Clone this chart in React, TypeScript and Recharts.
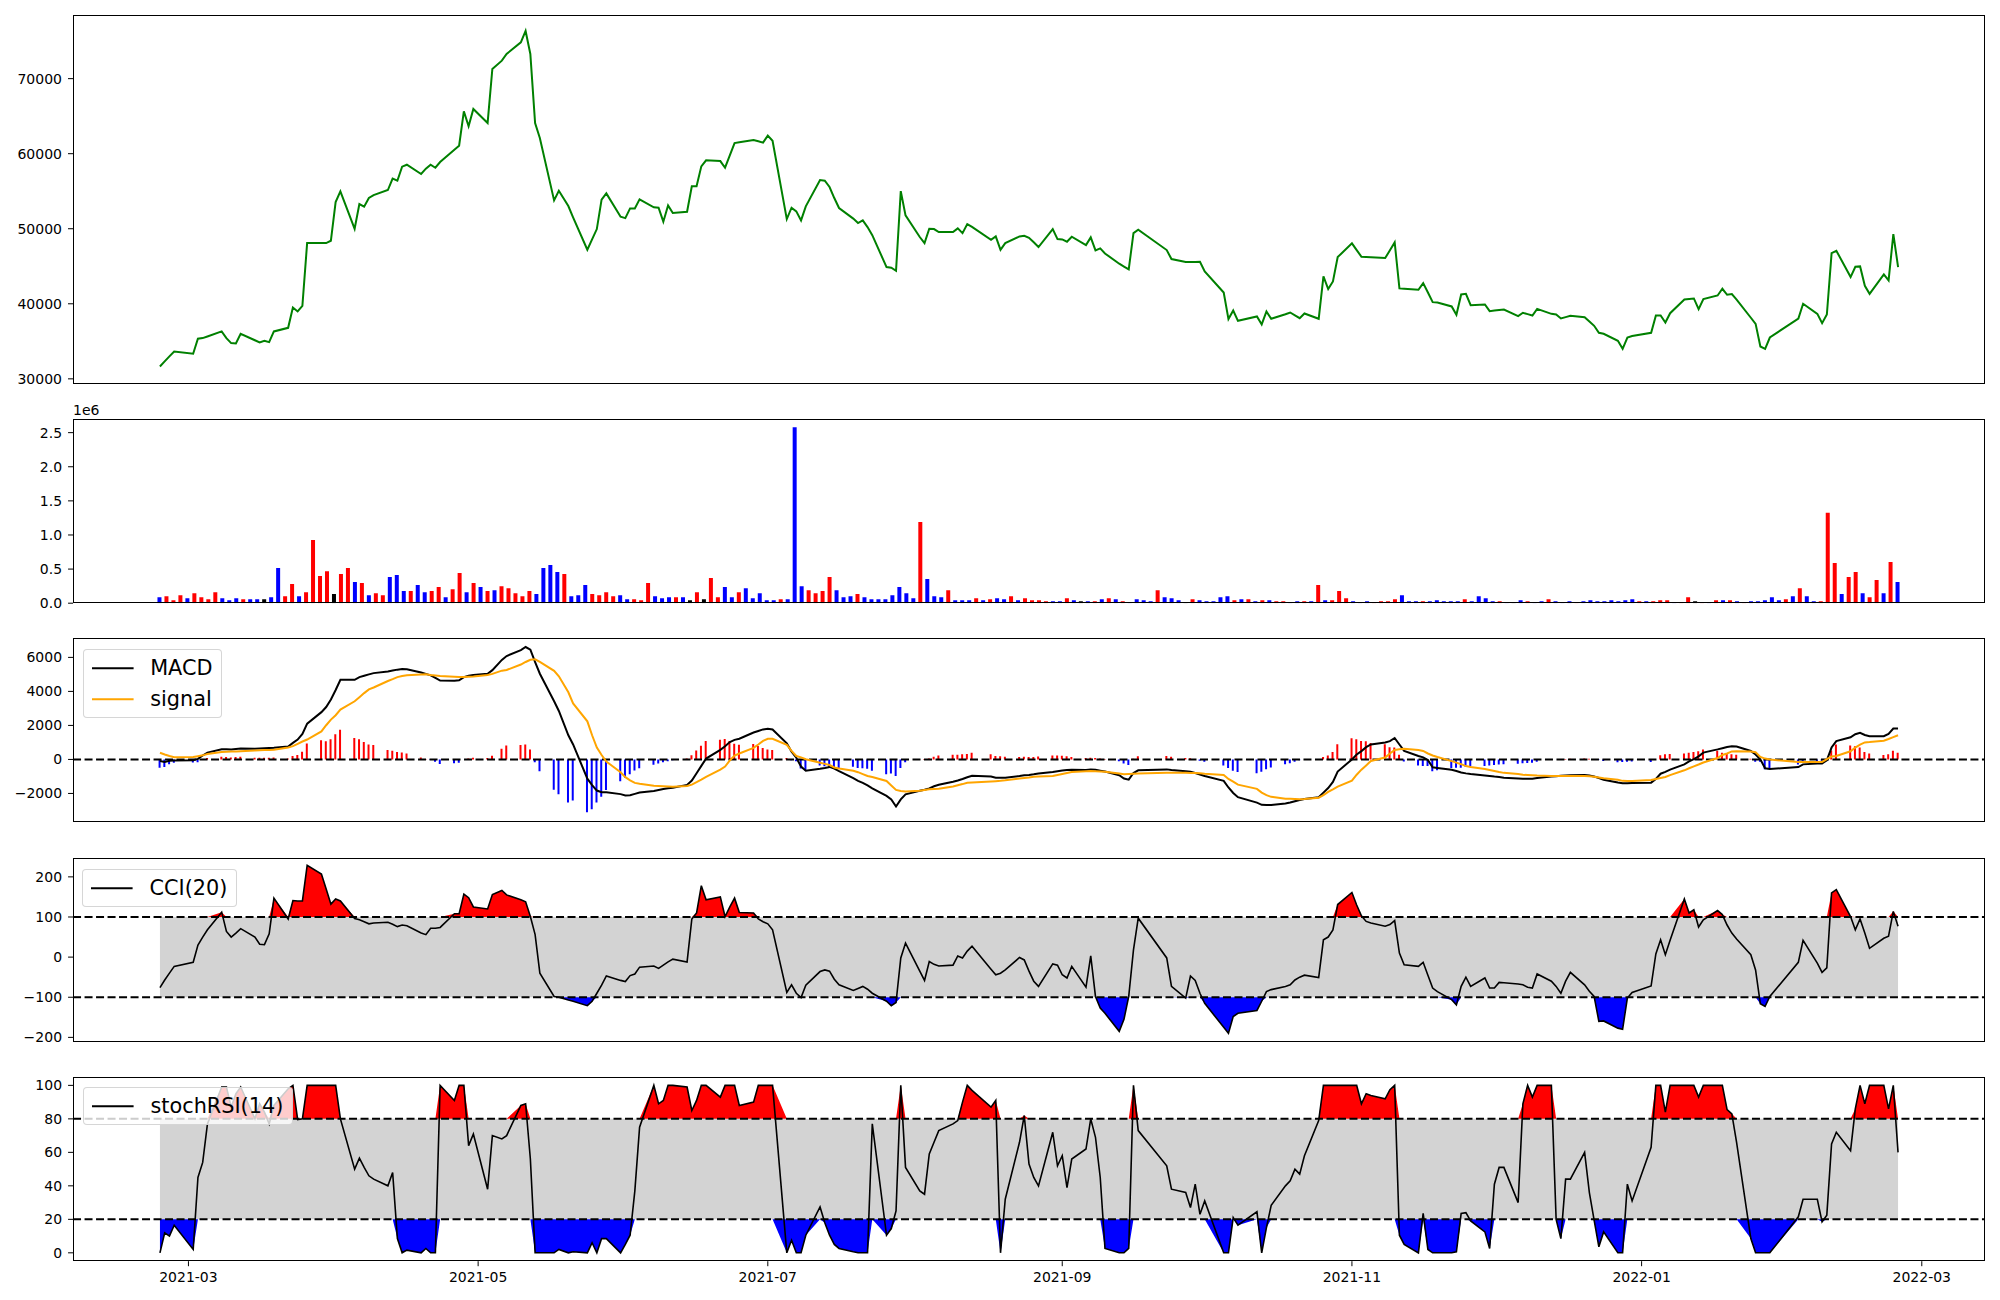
import React from "react";
import { Area, Bar, Cell, ComposedChart, Line, ReferenceLine, XAxis, YAxis } from "recharts";

// trading calendar (KRX): weekdays from START to START + LAST_DAY, minus market holidays
const START = "2021-02-23";
const LAST_DAY = 366;
const HOLIDAYS = [
  "2021-03-01", "2021-05-05", "2021-05-19", "2021-08-16", "2021-09-20", "2021-09-21",
  "2021-09-22", "2021-10-04", "2021-10-11", "2021-12-31", "2022-01-31", "2022-02-01", "2022-02-02"
];
const TICK_LABELS = ["2021-03", "2021-05", "2021-07", "2021-09", "2021-11", "2022-01", "2022-03"];

// one value per trading day, one row per week
const PRICE = [
  31650, 32320, 32990, 33650,
  33340, 35340, 35430, 35650,
  36320, 35430, 34760, 34720, 36000,
  35140, 34850, 35070, 34890, 36320,
  36800, 39510, 38980, 39730, 48090,
  48090, 48090, 48400, 53560, 54980,
  50000, 53290, 52940, 54100, 54490,
  55160, 56670, 56400, 58270, 58530,
  57290, 58000, 58530, 58130, 58890,
  60520, 61070, 65650, 63650, 65960,
  64090, 71290, 72400, 73290,
  74840, 76350, 73290, 64090, 62090,
  53780, 55070, 53020, 51500,
  47200, 48580, 49960, 53870, 54710,
  51600, 51420, 52710, 52710, 53910,
  52850, 52800, 50940, 53110, 52090,
  52270, 55650, 55650, 58310, 59110,
  59020, 58130, 59770, 61420, 61510,
  61820, 61650, 61470, 62400, 61730,
  51290, 52800, 52310, 51110, 52980,
  56490, 56400, 55560, 54090, 52760,
  51350, 50760, 51110, 50220, 49150,
  44890, 44800, 44400, 55020, 51780,
  48900, 48090, 50000, 49960, 49560,
  49560, 50050, 49420, 50620, 50240,
  48530, 48980, 47200, 48090,
  48980, 49070, 48800, 48200, 47560,
  49960, 48620, 48580, 48270, 48940,
  47820, 48850, 47110, 47380, 46710,
  45340, 44960, 44580, 49420, 49870,
  47160, 45960,
  45560, 45570, 45580, 45600, 44310,
  41510, 37960, 39110, 37730,
  38310, 37250, 38980, 38000,
  38600, 38840, 38470, 38090, 38710,
  38000, 43650, 41960, 42980, 46220,
  48050, 47160, 46270, 46230, 46200,
  46090, 47130, 48180, 42050, 42000,
  41870, 42760, 41500, 40220, 40180,
  39650, 38530, 41240, 41330, 39820,
  39910, 39020, 39100, 39180, 39240,
  38350, 38800, 38620, 38440, 39330,
  38660, 38580, 38040, 38220, 38400,
  38220, 37650, 37070, 36140, 36000,
  35070, 34000, 35510, 35700,
  36140, 38440, 38440, 37510, 38750,
  40580, 40640, 40710, 39290, 40620,
  41110, 42000, 41200, 41290, 40560,
  38140, 37330, 34310, 34000, 35510,
  38040, 40000,
  38660, 37420, 38580, 46760, 47070,
  43560, 44940, 44980, 42400, 41330,
  43920, 43120, 49290, 44890
];

// volume in thousands of shares, plotted by bar number
const VOLUME_K = [
  88, 100, 44, 118, 74, 147, 88, 59, 162, 74,
  44, 74, 59, 59, 59, 59, 88, 516, 100, 280,
  100, 162, 928, 400, 470, 133, 427, 516, 310, 295,
  118, 147, 118, 383, 413, 177, 177, 265, 162, 177,
  236, 88, 206, 442, 162, 295, 236, 177, 190, 250,
  220, 147, 100, 177, 133, 516, 560, 457, 427, 100,
  118, 265, 133, 118, 162, 100, 118, 59, 59, 44,
  295, 100, 74, 88, 88, 88, 44, 162, 59, 368,
  88, 236, 88, 162, 220, 74, 147, 44, 44, 59,
  59, 2580, 250, 190, 147, 177, 383, 190, 88, 100,
  133, 88, 59, 59, 59, 118, 236, 147, 74, 1190,
  354, 100, 88, 190, 44, 44, 44, 74, 44, 59,
  74, 59, 100, 44,
  74, 44, 44, 30, 30, 30, 74, 44, 30, 30,
  30, 59, 74, 59, 30, 15, 59, 44, 30, 190,
  88, 74, 44, 15, 59, 44, 30, 30, 88, 100,
  44, 59, 59, 30, 44, 44, 30, 30, 15, 30,
  30, 30, 265, 44, 44, 177, 74, 30, 15, 30,
  15, 30, 30, 59, 118, 30, 30, 30, 30, 44,
  30, 30, 30, 59, 30, 100, 74, 30, 30, 15,
  15, 44, 30, 15, 30, 59, 30, 15, 30, 15,
  30, 44, 30, 30, 44, 30, 44, 59, 30, 30,
  30, 44, 44, 15, 15, 88, 30, 15, 15, 44,
  44, 44, 30, 15, 30, 30, 44, 88, 44, 59,
  100, 220, 100, 30, 30, 1326, 590, 133, 383, 457,
  147, 88, 339, 147, 604, 310
];
// r = up day, b = down day, k = unchanged
const VOLUME_COLOR = [
  "brrrbrrrrb", "bbrbbkbbrr", "brrrrkrrbr", "brrbbbrbbr", "rbrrbrbrbr",
  "rrrrbbbbrb", "bbrrrrbbrr", "rbbbrbkrkr", "rbbrbbbbbr", "bbbrrrrbbb",
  "rbbbbbbbbr", "bbbrbbbrbr", "bbrb",
  "rrrrbbrbkb", "rbrbrbbbbr", "bbbkrbbbbb", "rbrbrbrrbb", "rbrbrrrbbb",
  "rrrrbbbrbb", "bbbrbbbbrb", "kbrbbrbbbr", "bbbbbbbbrb", "rrrbrrkrbr",
  "brbrbbbbbr", "brbbrrrbrr", "brrbrb"
].join("");

const MACD = [
  -98, -156, -80, -59,
  -45, 30, 230, 400,
  600, 600, 580, 610, 640,
  630, 640, 655, 665, 680,
  760, 975, 1170, 1500, 2106,
  2780, 3080, 3520, 4080, 4680,
  4680, 4840, 4920, 5000, 5075,
  5170, 5226, 5280, 5310, 5300,
  5110, 5030, 4940, 4800, 4641,
  4630, 4650, 4840, 4920, 4970,
  5040, 5250, 5850, 6080,
  6430, 6610, 6450, 5720, 5040,
  3420, 2850, 1420, 880,
  -1130, -1510, -1830, -1930, -1925,
  -2040, -2115, -2100, -2025, -1950,
  -1856, -1800, -1740, -1700, -1660,
  -1500, -1240, -810, -380, 50,
  560, 780, 1020, 1150, 1220,
  1580, 1670, 1765, 1800, 1760,
  950, 450, 100, -420, -660,
  -550, -500, -440, -540, -690,
  -1100, -1260, -1380, -1530, -1700,
  -2145, -2350, -2770, -2350, -2050,
  -1840, -1780, -1700, -1580, -1490,
  -1310, -1240, -1150, -1050, -960,
  -1000, -1073, -1073, -1073,
  -975, -936, -910, -875, -830,
  -740, -690, -650, -620, -600,
  -620, -590, -610, -660, -710,
  -930, -1120, -1190, -800, -640,
  -585, -620,
  -700, -730, -800, -890, -975,
  -1260, -1650, -1970, -2220,
  -2540, -2670, -2672, -2672,
  -2590, -2535, -2460, -2390, -2330,
  -2220, -1950, -1680, -1320, -710,
  0, 290, 490, 720, 880,
  1000, 1073, 1260, 878, 500,
  200, 120, -40, -460, -500,
  -610, -680, -770, -820, -860,
  -940, -970, -1010, -1040, -1070,
  -1120, -1131, -1131, -1131, -1090,
  -1000, -985, -965, -950, -936,
  -920, -950, -1000, -1090, -1190,
  -1360, -1404, -1404, -1385,
  -1365, -1150, -840, -730, -600,
  -290, -120, 20, 180, 400,
  590, 660, 730, 775, 760,
  500, 293, 10, -520, -560,
  -450, -290,
  -245, -234, -50, 700, 1080,
  1300, 1480, 1570, 1440, 1365,
  1365, 1500, 1814, 1814
];

const SIGNAL = [
  390, 290, 200, 135,
  140, 190, 240, 320,
  435, 452, 460, 467, 480,
  530, 540, 550, 560, 566,
  700, 780, 915, 1053, 1170,
  1650, 2010, 2340, 2600, 2930,
  3420, 3660, 3900, 4120, 4230,
  4610, 4720, 4840, 4900, 4950,
  5000, 5010, 4970, 4940, 4910,
  4860, 4840, 4840, 4860, 4875,
  4960, 5030, 5220, 5260,
  5580, 5730, 5860, 5890, 5740,
  5210, 4890, 3950, 3290,
  2240, 1420, 700, 260, -130,
  -750, -1040, -1230, -1380, -1430,
  -1550, -1565, -1575, -1590, -1610,
  -1560, -1480, -1340, -1190, -1030,
  -600, -420, -60, 230, 350,
  680, 880, 1090, 1209, 1209,
  860, 500, 200, 120, 10,
  -190, -260, -330, -470, -530,
  -670, -750, -860, -975, -1030,
  -1268, -1530, -1794, -1850, -1890,
  -1845, -1800, -1760, -1740, -1725,
  -1590, -1520, -1450, -1370, -1360,
  -1300, -1280, -1260, -1230,
  -1120, -1090, -1060, -1014, -1005,
  -975, -920, -860, -800, -741,
  -700, -685, -700, -715, -730,
  -830, -875, -860, -839, -822,
  -780, -780,
  -785, -795, -805, -815, -840,
  -910, -1150, -1300, -1480,
  -1730, -1950, -2100, -2200,
  -2305, -2315, -2325, -2335, -2330,
  -2250, -2100, -1910, -1760, -1600,
  -1250, -900, -600, -350, -90,
  110, 350, 560, 600, 624,
  560, 500, 350, 230, 140,
  -100, -190, -280, -390, -450,
  -560, -620, -680, -740, -790,
  -860, -900, -920, -935, -950,
  -975, -975, -975, -975, -975,
  -980, -995, -1020, -1060, -1100,
  -1200, -1260, -1268, -1268,
  -1209, -1150, -1090, -1030, -920,
  -640, -520, -410, -300, -180,
  80, 260, 350, 470, 488,
  460, 429, 150, 50, 0,
  -156, -156,
  -156, -156, 20, 170, 200,
  480, 700, 870, 1000, 1020,
  1100, 1200, 1310, 1424
];

const HIST = [
  -490, -450, -280, -190,
  -185, -160, -10, 80,
  165, 148, 120, 143, 160,
  100, 100, 105, 105, 114,
  60, 195, 255, 447, 936,
  1130, 1070, 1180, 1480, 1750,
  1260, 1180, 1020, 880, 845,
  560, 506, 440, 410, 350,
  110, 20, -30, -140, -269,
  -230, -190, 0, 60, 95,
  80, 220, 630, 820,
  850, 880, 590, -170, -700,
  -1790, -2040, -2530, -2410,
  -3100, -2930, -2530, -2190, -1795,
  -1290, -1075, -870, -645, -520,
  -306, -235, -165, -110, -50,
  60, 240, 530, 810, 1080,
  1160, 1200, 1080, 920, 870,
  900, 790, 675, 591, 551,
  90, -50, -100, -540, -670,
  -360, -400, -450, -500, -560,
  -430, -510, -520, -555, -670,
  -877, -820, -976, -500, -160,
  5, 20, 60, 160, 235,
  280, 280, 300, 320, 400,
  300, 207, 187, 157,
  145, 154, 150, 139, 175,
  235, 230, 210, 180, 141,
  80, 95, 90, 55, 20,
  -100, -245, -330, 39, 182,
  195, 160,
  85, 65, 5, -75, -135,
  -350, -500, -670, -740,
  -810, -720, -572, -472,
  -285, -220, -135, -55, 0,
  30, 150, 230, 440, 890,
  1250, 1190, 1090, 1070, 970,
  890, 723, 700, 278, -124,
  -360, -380, -390, -690, -640,
  -510, -490, -490, -430, -410,
  -380, -350, -330, -300, -280,
  -260, -231, -211, -196, -140,
  -25, -10, 10, 25, 39,
  60, 45, 20, -30, -90,
  -160, -144, -136, -117,
  -156, 0, 250, 300, 320,
  350, 400, 430, 480, 580,
  510, 400, 380, 305, 272,
  40, -136, -140, -570, -560,
  -294, -134,
  -89, -78, -70, 530, 880,
  820, 780, 700, 440, 345,
  265, 300, 504, 390
];

const CCI = [
  -76, -57, -40, -23,
  -13, 30, 50, 68,
  112, 64, 50, 60, 71,
  50, 32, 31, 58, 147,
  95, 141, 140, 140, 229,
  207, 170, 132, 145, 140,
  96, 93, 88, 83, 85,
  87, 82, 76, 80, 78,
  60, 56, 72, 72, 74,
  108, 108, 157, 148, 125,
  120, 156, 166, 155,
  143, 138, 101, 56, -40,
  -98, -100, -107, -110,
  -121, -110, -90, -70, -47,
  -58, -61, -46, -42, -25,
  -22, -28, -20, -12, -5,
  -12, 95, 110, 178, 143,
  150, 101, 125, 147, 111,
  110, 95, 88, 83, 68,
  -88, -69, -90, -101, -70,
  -36, -32, -35, -55, -69,
  -83, -78, -73, -80, -90,
  -110, -121, -113, -2, 35,
  -35, -58, -11, -18, -22,
  -20, 3, -2, 15, 27,
  -30, -44, -40, -32,
  -1, -7, -35, -60, -73,
  -17, -20, -44, -52, -23,
  -75, 3, -98, -127, -140,
  -185, -155, -98, 18, 97,
  -2, -73,
  -102, -47, -58, -90, -115,
  -175, -190, -148, -140,
  -133, -110, -86, -81,
  -73, -69, -57, -50, -45,
  -51, 43, 50, 68, 131,
  161, 130, 103, 89, 85,
  77, 81, 91, 10, -19,
  -23, -13, -45, -77, -86,
  -106, -119, -73, -50, -73,
  -52, -77, -77, -63, -64,
  -67, -69, -75, -77, -42,
  -60, -73, -90, -60, -38,
  -69, -85, -98, -160, -159,
  -177, -180, -102, -88,
  -72, 8, 43, 6, 42,
  145, 110, 118, 75, 93,
  116, 106, 80, 60, 45,
  6, -32, -116, -123, -98,
  -13, 42,
  -15, -38, -27, 160, 168,
  101, 68, 95, 60, 22,
  47, 52, 114, 77
];

const STOCH_RSI = [
  0, 12, 10, 16.5,
  2, 45, 54, 77,
  99, 99, 87, 95, 99,
  80, 89, 84, 77, 88,
  98, 100, 79.6, 80, 100,
  100, 100, 100, 100, 80,
  50, 56.5, 51, 46, 44,
  40, 48, 8.5, 0, 1.6,
  0, 2.6, 0, 0, 100,
  91, 100, 100, 64, 71,
  38, 70, 68, 70,
  88, 89, 56, 0, 0,
  0, 2, 0, 0.6,
  0, 6, 0, 8.5, 8.5,
  0, 5, 10.5, 37, 75,
  100, 89, 91, 100, 100,
  99, 85, 91, 100, 100,
  93, 100, 100, 100, 88,
  90, 100, 100, 100, 100,
  0, 7.5, 0, 0, 10.5,
  27.4, 18, 10.5, 5, 2.6,
  0.6, 0, 0, 0, 77,
  10.5, 14.5, 25, 100, 51,
  37, 35, 59, 66, 73,
  77, 79, 90, 100, 97,
  87, 91, 0, 32,
  66, 82, 53, 45, 40,
  72, 52, 58, 39, 56,
  62, 80, 69, 45, 2.6,
  0, 0, 2.6, 100, 73,
  52, 38,
  36, 27, 41, 23, 31,
  0, 0, 21, 16.5,
  24.5, 0, 15, 28.4,
  40, 43, 50, 47, 58,
  79, 100, 100, 100, 100,
  100, 100, 89, 95, 94,
  92, 97.4, 100, 10.5, 5,
  0, 23.5, 2, 0, 0,
  0, 0.6, 23.5, 24, 19,
  12.5, 2.6, 41, 51, 51,
  30, 89, 100, 93, 100,
  100, 20, 8.5, 44, 44,
  60, 36, 19.5, 3.6, 12.5,
  0, 0, 41, 31,
  63, 100, 100, 84, 100,
  100, 100, 100, 93, 100,
  100, 100, 85.5, 83, 66,
  8.5, 0, 0, 0, 0,
  21.5, 32,
  32, 18.5, 22.5, 65, 72,
  61, 86, 100, 89, 100,
  100, 86, 100, 60
];

const PRICE_TICKS = [30000, 40000, 50000, 60000, 70000];
const VOLUME_TICKS = [0, 500000, 1000000, 1500000, 2000000, 2500000];
const MACD_TICKS = [-2000, 0, 2000, 4000, 6000];
const CCI_TICKS = [-200, -100, 0, 100, 200];
const STOCH_TICKS = [0, 20, 40, 60, 80, 100];

const DAY_MS = 86400000;
const START_MS = Date.parse(START + "T00:00:00Z");
const dayOf = (iso: string) => Math.round((Date.parse(iso + "T00:00:00Z") - START_MS) / DAY_MS);

function tradingDays() {
  const out: number[] = [];
  for (let d = 0; d <= LAST_DAY; d++) {
    const t = new Date(START_MS + d * DAY_MS);
    const dow = t.getUTCDay();
    if (dow === 0 || dow === 6) continue;
    if (HOLIDAYS.includes(t.toISOString().slice(0, 10))) continue;
    out.push(d);
  }
  return out;
}

const DAYS = tradingDays();
const N = Math.min(DAYS.length, PRICE.length);
const rows = DAYS.slice(0, N).map((d, i) => ({
  d,
  price: PRICE[i],
  macd: MACD[i],
  signal: SIGNAL[i],
  hist: HIST[i],
  cci: CCI[i],
  cciBand: [-100, 100],
  cciHi: [100, Math.max(CCI[i], 100)],
  cciLo: [Math.min(CCI[i], -100), -100],
  stoch: STOCH_RSI[i],
  stBand: [20, 80],
  stHi: [80, Math.max(STOCH_RSI[i], 80)],
  stLo: [Math.min(STOCH_RSI[i], 20), 20]
}));
const COLORS: Record<string, string> = { r: "#ff0000", b: "#0000ff", k: "#000000" };
const volRows = VOLUME_K.map((v, i) => ({ i, vol: v * 1000, color: COLORS[VOLUME_COLOR[i]] ?? "#0000ff" }));

const span = DAYS[N - 1] - DAYS[0];
const X_DOMAIN = [DAYS[0] - 0.05 * span, DAYS[N - 1] + 0.05 * span];
const VOL_DOMAIN = [-0.05 * (volRows.length - 1), (volRows.length - 1) * 1.05];
const X_TICKS = TICK_LABELS.map((m) => dayOf(m + "-01"));
const tickLabel = (v: number) => TICK_LABELS[X_TICKS.indexOf(v)] ?? "";

const W = 2000;
const PLOT_LEFT = 73;
const PLOT_RIGHT = 15;
const PAD = 12;
const X_AXIS_H = 40;
const FONT = "'DejaVu Sans', sans-serif";
const TICK = { fill: "#000", fontSize: 14, fontFamily: FONT };
const DASH = "8 3.5";
const minus = (v: number) => (v < 0 ? "\u2212" + Math.abs(v) : String(v));

const P1 = { top: 15, h: 368.5 };
const P2 = { top: 418.8, h: 184.2 };
const P3 = { top: 638.3, h: 184.2 };
const P4 = { top: 857.8, h: 184.2 };
const P5 = { top: 1077.3, h: 184.2 };

function Panel({
  top, h, data, xKey, xDomain, yDomain, yTicks, yFormat, showX, children
}: {
  top: number; h: number; data: any[]; xKey: string; xDomain: number[]; yDomain: number[];
  yTicks: number[]; yFormat: (v: number) => string; showX?: boolean; children: React.ReactNode;
}) {
  const height = h + 2 * PAD + (showX ? X_AXIS_H : 0);
  return (
    <div style={{ position: "absolute", left: 0, top: top - PAD }}>
      <ComposedChart width={W} height={height} data={data}
        margin={{ top: PAD, right: PLOT_RIGHT, bottom: PAD, left: 0 }}>
        <XAxis type="number" dataKey={xKey} domain={xDomain} allowDataOverflow hide={!showX}
          ticks={showX ? X_TICKS : undefined} tickFormatter={tickLabel} interval={0}
          height={X_AXIS_H} tickSize={5} tickMargin={6} axisLine={false}
          tickLine={{ stroke: "#000" }} tick={TICK} />
        <YAxis type="number" domain={yDomain} allowDataOverflow ticks={yTicks} interval={0}
          tickFormatter={yFormat} width={PLOT_LEFT} tickSize={5} tickMargin={6}
          axisLine={false} tickLine={{ stroke: "#000" }} tick={TICK} />
        {children}
      </ComposedChart>
      <div style={{
        position: "absolute", left: PLOT_LEFT, top: PAD, width: W - PLOT_LEFT - PLOT_RIGHT, height: h,
        border: "1px solid #000", boxSizing: "border-box", pointerEvents: "none"
      }} />
    </div>
  );
}

function LegendBox({ left, top, items }: { left: number; top: number; items: { label: string; color: string; width: number }[] }) {
  return (
    <div style={{
      position: "absolute", left, top, padding: "7.8px 8.3px", background: "rgba(255,255,255,0.8)",
      border: "1px solid rgba(204,204,204,0.8)", borderRadius: 4, fontFamily: FONT, fontSize: 20.8,
      lineHeight: "20.3px", color: "#000"
    }}>
      {items.map((it, k) => (
        <div key={it.label} style={{ display: "flex", alignItems: "center", height: 20.3, marginTop: k ? 10.4 : 0 }}>
          <svg width={41.6} height={20.3} style={{ display: "block" }}>
            <line x1={0} x2={41.6} y1={10.15} y2={10.15} stroke={it.color} strokeWidth={it.width} />
          </svg>
          <span style={{ marginLeft: 16.6, whiteSpace: "nowrap" }}>{it.label}</span>
        </div>
      ))}
    </div>
  );
}

export default function App() {
  return (
    <div style={{ position: "relative", width: W, height: 1300, background: "#fff", fontFamily: FONT }}>
      <style>{"body{margin:0}"}</style>

      <Panel {...P1} data={rows} xKey="d" xDomain={X_DOMAIN} yDomain={[29380, 78480]}
        yTicks={PRICE_TICKS} yFormat={(v) => String(v)}>
        <Line type="linear" dataKey="price" stroke="#008000" strokeWidth={2} dot={false}
          activeDot={false} isAnimationActive={false} />
      </Panel>

      <Panel {...P2} data={volRows} xKey="i" xDomain={VOL_DOMAIN} yDomain={[0, 2700000]}
        yTicks={VOLUME_TICKS} yFormat={(v) => (v / 1e6).toFixed(1)}>
        <Bar dataKey="vol" barSize={4} isAnimationActive={false}>
          {volRows.map((r) => <Cell key={r.i} fill={r.color} />)}
        </Bar>
      </Panel>
      <div style={{ position: "absolute", left: 73, top: 403, fontSize: 14, lineHeight: "14px" }}>1e6</div>

      <Panel {...P3} data={rows} xKey="d" xDomain={X_DOMAIN} yDomain={[-3690, 7140]}
        yTicks={MACD_TICKS} yFormat={minus}>
        <Bar dataKey="hist" barSize={2} isAnimationActive={false}>
          {rows.map((r) => <Cell key={r.d} fill={r.hist >= 0 ? "#ff0000" : "#0000ff"} />)}
        </Bar>
        <ReferenceLine y={0} stroke="#000" strokeWidth={2} strokeDasharray={DASH} />
        <Line type="linear" dataKey="macd" stroke="#000" strokeWidth={2} dot={false}
          activeDot={false} isAnimationActive={false} />
        <Line type="linear" dataKey="signal" stroke="#ffa500" strokeWidth={2} dot={false}
          activeDot={false} isAnimationActive={false} />
      </Panel>
      <LegendBox left={82.7} top={649.3} items={[
        { label: "MACD", color: "#000", width: 2 },
        { label: "signal", color: "#ffa500", width: 2 }
      ]} />

      <Panel {...P4} data={rows} xKey="d" xDomain={X_DOMAIN} yDomain={[-212, 247]}
        yTicks={CCI_TICKS} yFormat={minus}>
        <Area type="linear" dataKey="cciBand" stroke="none" fill="#d3d3d3" fillOpacity={1}
          dot={false} activeDot={false} isAnimationActive={false} />
        <Area type="linear" dataKey="cciHi" stroke="none" fill="#ff0000" fillOpacity={1}
          dot={false} activeDot={false} isAnimationActive={false} />
        <Area type="linear" dataKey="cciLo" stroke="none" fill="#0000ff" fillOpacity={1}
          dot={false} activeDot={false} isAnimationActive={false} />
        <ReferenceLine y={100} stroke="#000" strokeWidth={2} strokeDasharray={DASH} />
        <ReferenceLine y={-100} stroke="#000" strokeWidth={2} strokeDasharray={DASH} />
        <Line type="linear" dataKey="cci" stroke="#000" strokeWidth={1.6} dot={false}
          activeDot={false} isAnimationActive={false} />
      </Panel>
      <LegendBox left={82} top={869} items={[{ label: "CCI(20)", color: "#000", width: 2 }]} />

      <Panel {...P5} data={rows} xKey="d" xDomain={X_DOMAIN} yDomain={[-5, 105]}
        yTicks={STOCH_TICKS} yFormat={(v) => String(v)} showX>
        <Area type="linear" dataKey="stBand" stroke="none" fill="#d3d3d3" fillOpacity={1}
          dot={false} activeDot={false} isAnimationActive={false} />
        <Area type="linear" dataKey="stHi" stroke="none" fill="#ff0000" fillOpacity={1}
          dot={false} activeDot={false} isAnimationActive={false} />
        <Area type="linear" dataKey="stLo" stroke="none" fill="#0000ff" fillOpacity={1}
          dot={false} activeDot={false} isAnimationActive={false} />
        <ReferenceLine y={80} stroke="#000" strokeWidth={2} strokeDasharray={DASH} />
        <ReferenceLine y={20} stroke="#000" strokeWidth={2} strokeDasharray={DASH} />
        <Line type="linear" dataKey="stoch" stroke="#000" strokeWidth={1.6} dot={false}
          activeDot={false} isAnimationActive={false} />
      </Panel>
      <LegendBox left={83} top={1087} items={[{ label: "stochRSI(14)", color: "#000", width: 2 }]} />
    </div>
  );
}
